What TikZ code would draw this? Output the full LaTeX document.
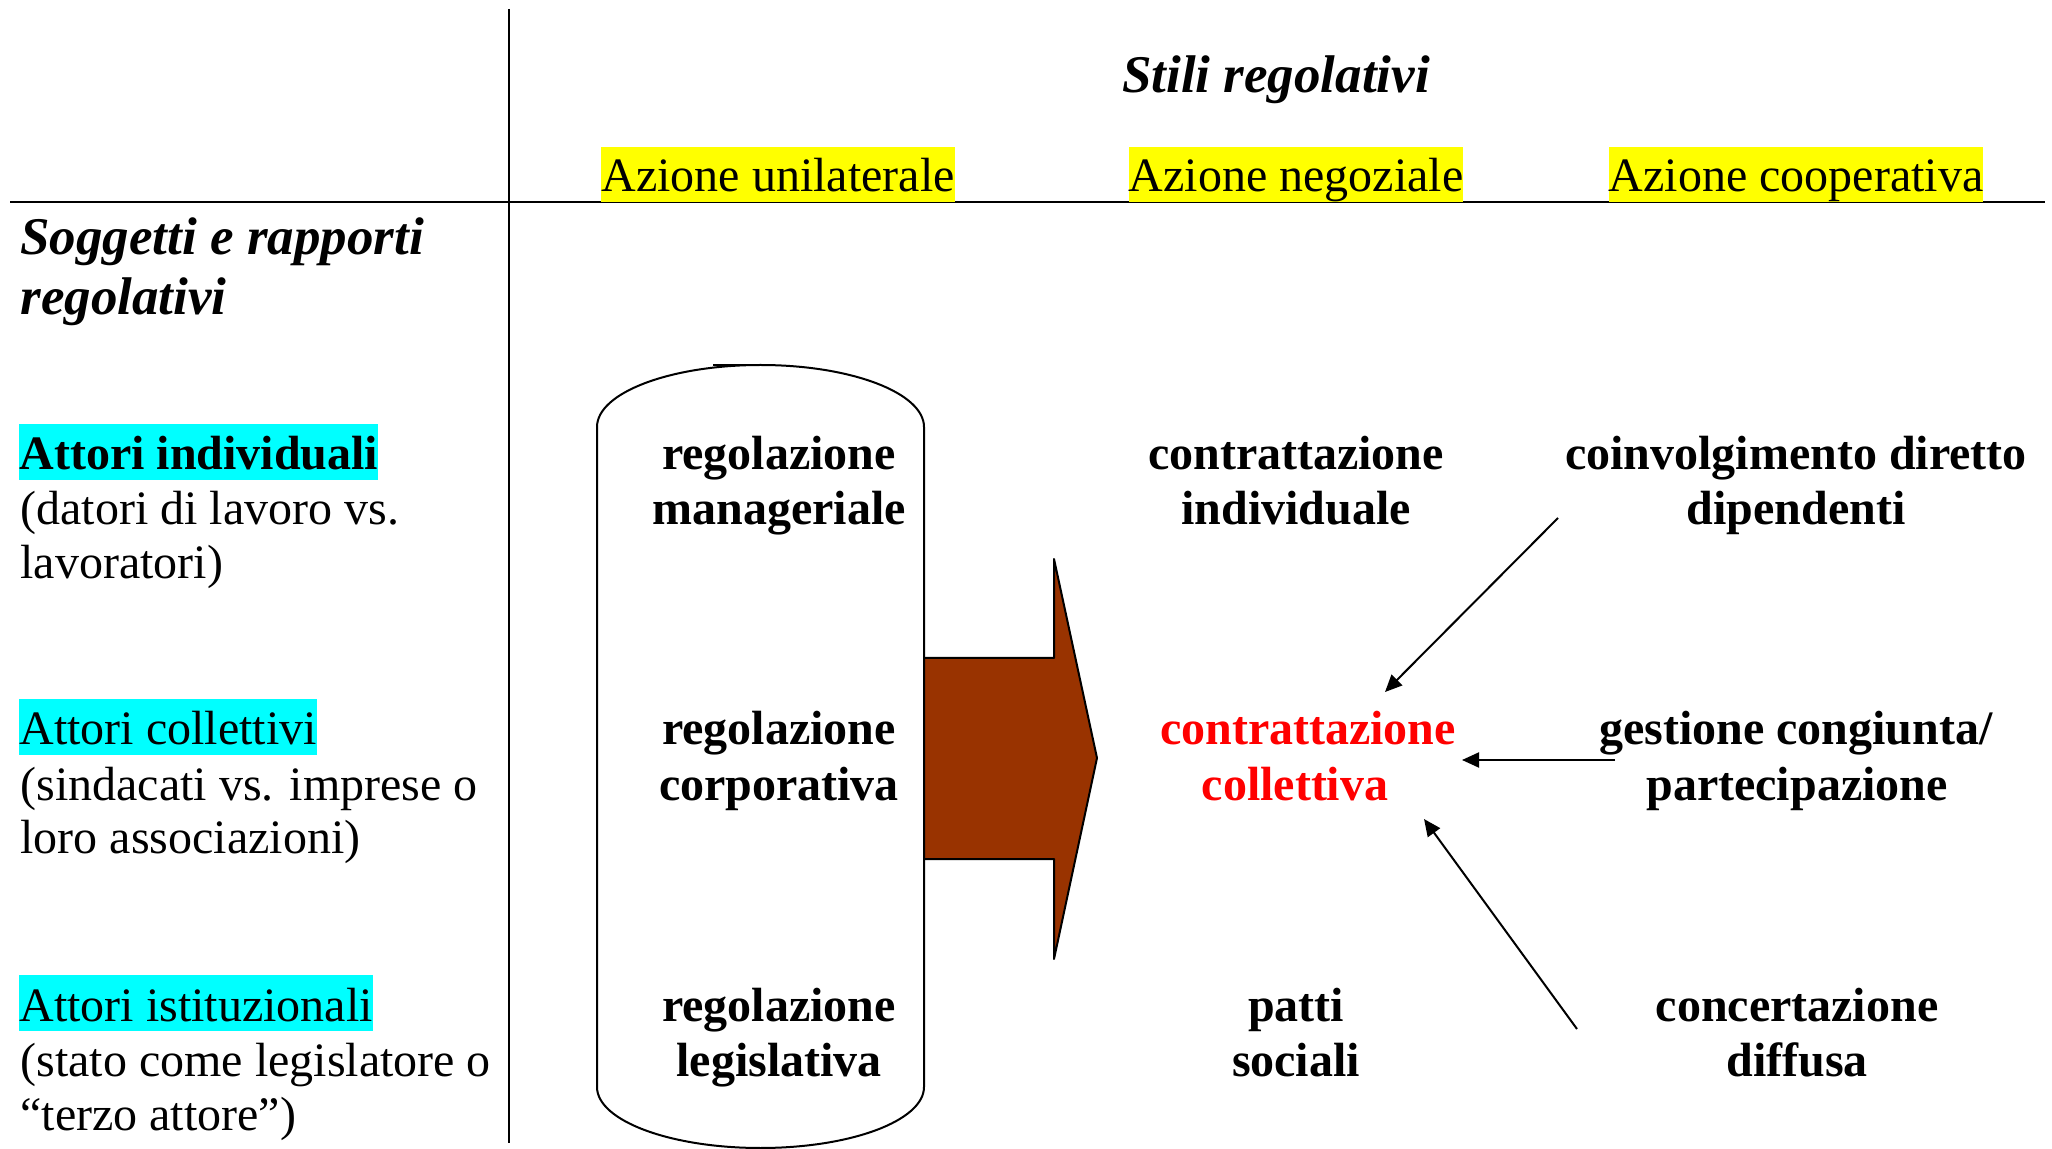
\documentclass[tikz,border=0pt]{standalone}
\usepackage{fontspec}
\setmainfont{Liberation Serif}
\usetikzlibrary{arrows.meta}
\definecolor{hlcyan}{HTML}{00FFFF}
\definecolor{hlyellow}{HTML}{FFFF00}
\definecolor{arrowbrown}{HTML}{993300}
\definecolor{hired}{HTML}{FF0000}
\begin{document}
\begin{tikzpicture}[x=0.5pt,y=-0.5pt,
  txt/.style={inner sep=0pt, font=\fontsize{24pt}{27.5pt}\selectfont},
  bl/.style={inner sep=0pt, font=\fontsize{24pt}{27.5pt}\selectfont\bfseries, anchor=base},
  hd/.style={inner sep=0pt, font=\fontsize{26.5pt}{29pt}\selectfont\bfseries\itshape},
  hlc/.style={inner sep=0pt, fill=hlcyan, text height=23pt, text depth=5pt, anchor=base west},
  hly/.style={txt, fill=hlyellow, text height=22.5pt, text depth=5pt, anchor=base},
  gridline/.style={line width=1.2pt},
  conn/.style={line width=1pt, -{Triangle[length=8.5pt,width=7.5pt]}},
]
\useasboundingbox (0,0) rectangle (2052,1149);

% grid lines
\coordinate (vtop) at (509,9);
\coordinate (vbot) at (509,1143);
\coordinate (hleft) at (10,202);
\coordinate (hright) at (2045,202);
\draw[gridline] (vtop) -- (vbot);
\draw[gridline] (hleft) -- (hright);

% headings
\node[hd, anchor=base] (stili) at (1276,93) {Stili regolativi};
\node[hly] (hu) at (778,192) {Azione unilaterale};
\node[hly] (hn) at (1296,192) {Azione negoziale};
\node[hly] (hc) at (1796,192) {Azione cooperativa};
\node[hd, anchor=base west] (sog1) at (20,255) {Soggetti e rapporti};
\node[hd, anchor=base west] (sog2) at (20,315) {regolativi};

% left column
\node[hlc, font=\fontsize{24pt}{27.5pt}\selectfont\bfseries] (ai1) at (19,470) {Attori individuali};
\node[txt, anchor=base west] (ai2) at (20,525) {(datori di lavoro vs.};
\node[txt, anchor=base west] (ai3) at (20,579) {lavoratori)};
\node[hlc, font=\fontsize{24pt}{27.5pt}\selectfont] (ac1) at (19,745) {Attori collettivi};
\node[txt, anchor=base west] (ac2) at (20,800) {(sindacati vs. imprese o};
\node[txt, anchor=base west] (ac3) at (20,854) {loro associazioni)};
\node[hlc, font=\fontsize{24pt}{27.5pt}\selectfont] (as1) at (19,1021) {Attori istituzionali};
\node[txt, anchor=base west] (as2) at (20,1076) {(stato come legislatore o};
\node[txt, anchor=base west] (as3) at (20,1130) {“terzo attore”)};

% cylinder
\draw[line width=1pt] (597,427) -- (597,1087)
  arc[start angle=180, end angle=0, x radius=163.5, y radius=61]
  -- (924,427)
  arc[start angle=0, end angle=-180, x radius=163.5, y radius=62]
  -- cycle;
\coordinate (capl) at (713,365);
\coordinate (capr) at (771,365);
\draw[line width=1pt] (capl) -- (capr);

% big arrow
\draw[line width=1pt, fill=arrowbrown, line join=round]
  (924,658) -- (1054,658) -- (1054,559) -- (1097,758) -- (1054,959)
  -- (1054,859) -- (924,859) -- cycle;

% column 1
\node[bl] (m1) at (779,470) {regolazione};
\node[bl] (m2) at (779,525) {manageriale};
\node[bl] (c1) at (779,745) {regolazione};
\node[bl] (c2) at (779,800) {corporativa};
\node[bl] (l1) at (779,1021) {regolazione};
\node[bl] (l2) at (779,1076) {legislativa};

% column 2
\node[bl] (ci1) at (1296,470) {contrattazione};
\node[bl] (ci2) at (1296,525) {individuale};
\node[bl, text=hired] (cc1) at (1308,745) {contrattazione};
\node[bl, text=hired] (cc2) at (1295,800) {collettiva};
\node[bl] (ps1) at (1296,1021) {patti};
\node[bl] (ps2) at (1296,1076) {sociali};

% column 3
\node[bl] (cd1) at (1796,470) {coinvolgimento diretto};
\node[bl] (cd2) at (1796,525) {dipendenti};
\node[bl] (gc1) at (1796,745) {gestione congiunta/};
\node[bl] (gc2) at (1797,800) {partecipazione};
\node[bl] (cf1) at (1797,1021) {concertazione};
\node[bl] (cf2) at (1797,1076) {diffusa};

% connectors
\coordinate (a1s) at (1558,518);
\coordinate (a1e) at (1385,692);
\coordinate (a2s) at (1615,760);
\coordinate (a2e) at (1462,760);
\coordinate (a3s) at (1577,1029);
\coordinate (a3e) at (1424,819);
\draw[conn] (a1s) -- (a1e);
\draw[conn] (a2s) -- (a2e);
\draw[conn] (a3s) -- (a3e);
\end{tikzpicture}
\end{document}
